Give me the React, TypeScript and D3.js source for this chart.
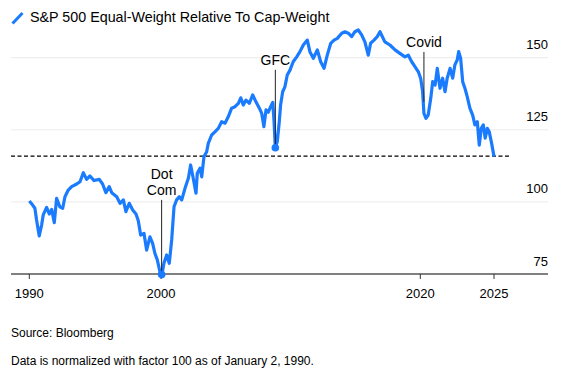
import * as d3 from "d3"

// Weekly-ish samples
const dates = [
  "1990-01-02", "1990-04-04", "1990-06-05", "1990-07-22", "1990-10-04", "1990-12-09",
  "1991-01-22", "1991-04-26", "1991-07-08", "1991-09-13", "1991-11-25",
  "1992-01-28", "1992-04-28", "1992-07-15", "1992-09-16", "1992-12-16",
  "1993-03-20", "1993-08-07", "1993-11-07",
  "1994-02-07", "1994-05-10", "1994-08-10", "1994-11-28",
  "1995-04-26", "1995-07-26", "1995-10-26",
  "1996-01-26", "1996-04-04", "1996-08-21", "1996-11-21",
  "1997-02-21", "1997-05-03", "1997-08-03", "1997-11-07",
  "1998-02-07", "1998-04-11", "1998-06-16", "1998-09-16", "1998-11-28",
  "1999-02-28", "1999-05-14", "1999-07-15", "1999-09-20", "1999-12-02",
  "2000-01-19", "2000-03-23", "2000-06-09", "2000-08-21", "2000-10-28",
  "2001-01-02", "2001-03-16", "2001-05-28", "2001-08-07", "2001-11-07",
  "2002-02-10", "2002-04-15", "2002-06-27", "2002-09-13", "2002-10-19",
  "2003-01-04", "2003-02-21", "2003-04-26", "2003-07-11", "2003-08-25", "2003-11-28",
  "2004-02-28", "2004-06-02", "2004-09-05", "2004-12-09",
  "2005-03-09", "2005-06-13", "2005-09-16", "2005-12-20",
  "2006-02-25", "2006-05-07", "2006-07-22", "2006-10-26",
  "2007-01-28", "2007-04-28", "2007-08-03", "2007-10-08", "2007-12-09",
  "2008-02-07", "2008-04-11", "2008-06-16", "2008-08-14", "2008-09-20", "2008-10-26", "2008-12-20",
  "2009-02-14", "2009-03-23", "2009-05-21", "2009-07-22", "2009-09-27", "2009-12-13",
  "2010-03-13", "2010-06-20", "2010-09-20", "2010-12-23",
  "2011-04-15", "2011-06-27", "2011-10-01",
  "2012-01-22", "2012-04-26", "2012-07-29", "2012-10-28",
  "2013-02-03", "2013-05-07", "2013-08-07", "2013-12-09",
  "2014-03-09", "2014-06-13", "2014-09-16", "2014-12-16",
  "2015-03-20", "2015-06-23", "2015-09-23", "2015-12-27",
  "2016-03-02", "2016-06-05", "2016-09-05", "2016-11-21",
  "2017-04-08", "2017-08-28",
  "2018-01-19", "2018-06-05", "2018-10-26",
  "2019-01-26", "2019-05-03", "2019-08-03", "2019-11-07",
  "2020-01-11", "2020-02-28", "2020-03-31", "2020-05-21", "2020-07-15", "2020-09-16", "2020-11-03",
  "2021-01-02", "2021-02-25", "2021-05-03", "2021-07-08", "2021-09-05", "2021-10-28",
  "2022-01-08", "2022-03-13", "2022-05-07", "2022-07-04", "2022-08-10", "2022-09-27", "2022-11-17",
  "2023-01-11", "2023-03-09", "2023-05-14", "2023-07-22", "2023-09-16", "2023-11-14",
  "2024-01-02", "2024-02-21", "2024-04-11", "2024-05-28", "2024-07-19", "2024-09-05", "2024-10-26",
  "2025-01-02",
]

const values = [
  100.3, 98.9, 97.8, 93.7, 88.2, 92.0,
  95.5, 98.1, 95.8, 97.4, 92.8,
  101.2, 98.3, 97.8, 101.8, 104.1,
  105.3, 106.2, 107.0,
  110.1, 107.8, 109.0, 107.4,
  107.8, 106.2, 103.2,
  105.3, 103.2, 101.8, 99.5,
  100.7, 96.6, 99.5, 97.2,
  95.8, 93.5, 88.5, 89.1, 83.3,
  87.9, 85.6, 82.2, 79.9, 75.8,
  74.1, 78.7, 81.6, 78.7, 86.8,
  98.3, 100.7, 101.8, 100.7, 104.7,
  108.2, 112.8, 108.2, 103.0, 109.9,
  111.7, 108.7, 115.7, 117.4, 120.3, 123.2,
  124.3, 125.5, 127.8, 127.3,
  129.5, 132.5, 133.0, 134.2,
  136.1, 133.6, 135.3, 134.2,
  137.1, 134.7, 132.5, 130.7, 126.1,
  131.9, 131.1, 133.0, 134.5, 127.8, 118.8, 120.9,
  127.8, 133.6, 138.2, 139.9, 144.0, 145.7,
  148.6, 150.3, 152.1, 154.4,
  156.1, 152.1, 149.8,
  152.7, 148.6, 146.3, 150.9,
  155.0, 156.1, 156.7, 158.5,
  159.0, 158.5, 157.3, 159.0,
  159.6, 157.9, 155.5, 150.9,
  155.0, 156.1, 157.3, 159.0,
  155.5, 154.4,
  152.7, 151.5, 150.3,
  150.9, 148.6, 146.9, 145.1,
  142.8, 138.2, 130.7, 129.0, 130.1, 135.9, 141.7,
  140.5, 146.3, 139.4, 142.9, 138.2, 142.9,
  146.3, 142.9, 147.5, 149.2, 152.1, 149.8, 141.7,
  139.4, 136.5, 132.5, 130.1, 126.7, 127.8,
  119.7, 125.5, 126.7, 122.1, 125.5, 124.3, 120.9,
  115.7,
]

const yTicks = [75, 100, 125, 150]
const xTickYears = ["1990", "2000", "2020", "2025"]
const referenceLevel = 115.9

const eventLabels = [["Dot", "Com"], ["GFC"], ["Covid"]]
const eventDates = ["2000-01-19", "2008-10-26", "2020-03-31"]
const eventTops = [100.7, 145.8, 152]
const eventBottoms = [74.8, 118.8, 134.7]
const eventDots = [true, true, false]

const BLUE = "#1a7bff"
const FONT = "'Liberation Sans', Arial, Helvetica, sans-serif"

export default function App() {
  const width = 586
  const height = 373
  const parseDate = d3.timeParse("%Y-%m-%d")
  const parseYear = d3.timeParse("%Y")

  const series = dates.map((d, i) => ({ date: parseDate(d) as Date, value: values[i] }))

  // Bloomberg's axis isn't evenly spaced per year, so the time scale is piecewise
  const x = d3
    .scaleTime()
    .domain(xTickYears.map((y) => parseYear(y) as Date))
    .range([29.3, 161, 420.3, 494])

  const y = d3.scaleLinear().domain([75, 150]).range([274, 57.7])

  const line = d3
    .line<{ date: Date; value: number }>()
    .x((d) => x(d.date))
    .y((d) => y(d.value))

  const left = 11
  const right = 548

  return (
    <svg
      width={width}
      height={height}
      style={{ position: "absolute", left: 0, top: 0, background: "#fff" }}
      fontFamily={FONT}
    >
      {/* title */}
      <line x1={12.5} y1={23.5} x2={22.5} y2={13} stroke={BLUE} strokeWidth={3} />
      <text x={30} y={22} fontSize={14.3} fill="#000">
        S&amp;P 500 Equal-Weight Relative To Cap-Weight
      </text>

      {/* grid */}
      {yTicks
        .filter((t) => t !== 75)
        .map((t) => (
          <line key={t} x1={left} x2={right} y1={y(t)} y2={y(t)} stroke="#ebebeb" strokeWidth={1} />
        ))}
      {yTicks.map((t) => (
        <text key={t} x={right} y={y(t) - 8.5} textAnchor="end" fontSize={13} fill="#000">
          {t}
        </text>
      ))}

      {/* x axis */}
      <line x1={left} x2={right} y1={y(75)} y2={y(75)} stroke="#808080" strokeWidth={2} />
      {xTickYears.map((t) => {
        const px = x(parseYear(t) as Date)
        return (
          <g key={t}>
            <line x1={px} x2={px} y1={y(75)} y2={y(75) + 5} stroke="#333" strokeWidth={1} />
            <text x={px} y={298} textAnchor="middle" fontSize={13} fill="#000">
              {t}
            </text>
          </g>
        )
      })}

      {/* reference level */}
      <line
        x1={left}
        x2={511}
        y1={y(referenceLevel)}
        y2={y(referenceLevel)}
        stroke="#000"
        strokeWidth={1.3}
        strokeDasharray="4,2.5"
      />

      <path d={line(series) ?? ""} fill="none" stroke={BLUE} strokeWidth={3.2} strokeLinejoin="round" />

      {/* event markers */}
      {eventDates.map((d, i) => {
        const px = x(parseDate(d) as Date)
        const lines = eventLabels[i]
        const top = y(eventTops[i])
        return (
          <g key={d}>
            <line x1={px} x2={px} y1={top} y2={y(eventBottoms[i])} stroke="#222" strokeWidth={1} />
            {lines.map((l, j) => (
              <text
                key={l}
                x={px}
                y={top - 5 - (lines.length - 1 - j) * 16}
                textAnchor="middle"
                fontSize={14}
                fill="#000"
              >
                {l}
              </text>
            ))}
          </g>
        )
      })}

      {eventDates.map((d, i) =>
        eventDots[i] ? (
          <circle key={d} cx={x(parseDate(d) as Date)} cy={y(eventBottoms[i])} r={3.8} fill={BLUE} />
        ) : null
      )}

      {/* footer */}
      <text x={11} y={337} fontSize={12} fill="#000">
        Source: Bloomberg
      </text>
      <text x={11} y={365} fontSize={12} fill="#000">
        Data is normalized with factor 100 as of January 2, 1990.
      </text>
    </svg>
  )
}
